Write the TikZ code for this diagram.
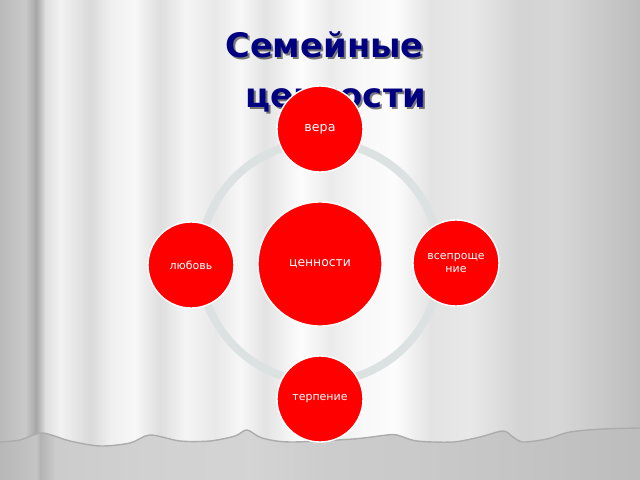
\documentclass[tikz,border=0pt]{standalone}
\usepackage{fontspec}
\setmainfont{DejaVu Sans}
\usetikzlibrary{positioning}
\definecolor{titleblue}{RGB}{0,0,128}
\definecolor{ringgray}{RGB}{220,226,226}
\definecolor{valuered}{RGB}{255,0,0}

\begin{document}
\begin{tikzpicture}[x=0.025cm, y=-0.025cm,
    value/.style={circle, fill=valuered, draw=white, line width=1pt, text=white, inner sep=0pt, align=center},
    small/.style={value, minimum size=2.15cm, font=\fontsize{7.8}{8.8}\selectfont},
    big/.style={value, minimum size=3.1cm, font=\fontsize{8.8}{10}\selectfont},
    titletext/.style={anchor=base west, inner sep=0pt, font=\bfseries\fontsize{24}{28}\selectfont}]
  \useasboundingbox (0,0) rectangle (640,480);

  % Floor
  \foreach \xa/\ga/\xb/\gb in {0/72/36/77, 36/77/40/70, 40/70/55/80, 55/80/150/82, 150/82/250/83,
      250/83/330/80, 330/80/420/79, 420/79/520/77, 520/77/640/74}
    \shade[left color=white!\ga!black, right color=white!\gb!black] (\xa,400) rectangle (\xb+0.6,480);

  % Curtain folds
  \begin{scope}
    \clip (0,0) -- plot[smooth] coordinates {(0,442) (20,440) (42,433) (70,441) (100,446) (130,443) (150,435)
      (180,441) (210,441) (235,436) (247,430) (262,438) (290,442) (353,439) (387,435) (397,435) (417,441)
      (453,442) (480,437) (503,431) (513,437) (523,442) (547,439) (570,432) (603,429) (640,428)} -- (640,0) -- cycle;
    \foreach \xa/\ga/\xb/\gb in {0/73/25/79, 25/79/36/65, 36/65/45/87, 45/87/60/95, 60/95/90/85, 90/85/110/94,
        110/94/135/97, 135/97/160/87, 160/87/185/96, 185/96/215/91, 215/91/240/97, 240/97/265/89,
        265/89/300/99, 300/99/330/92, 330/92/360/97, 360/97/395/99, 395/99/430/89, 430/89/470/91,
        470/91/520/83, 520/83/560/84, 560/84/640/74}
      \shade[left color=white!\ga!black, right color=white!\gb!black] (\xa,0) rectangle (\xb+0.6,460);
  \end{scope}
  \draw[gray!65, line width=1pt] plot[smooth] coordinates {(0,442) (20,440) (42,433) (70,441) (100,446) (130,443) (150,435)
      (180,441) (210,441) (235,436) (247,430) (262,438) (290,442) (353,439) (387,435) (397,435) (417,441)
      (453,442) (480,437) (503,431) (513,437) (523,442) (547,439) (570,432) (603,429) (640,428)};

  % Title
  \node[titletext, text=black, opacity=0.5] (title1s) at (227,60) {Семейные};
  \node[titletext, text=black, opacity=0.5] (title2s) at (247,109) {ценности};
  \node[titletext, text=titleblue] (title1) at (225,58) {Семейные};
  \node[titletext, text=titleblue] (title2) at (245,107) {ценности};

  % Values
  \node[big] (hub) at (320,264) {ценности};
  \draw[ringgray, line width=5.7pt] (hub.center) ++(0,-2) circle[radius=3cm];
  \node[small, font=\fontsize{9}{10}\selectfont] (faith) at (320,129) {вера};
  \node[small] (love) at (191,265) {любовь};
  \node[small] (forgive) at (456,263) {всепроще\\ние};
  \node[small] (patience) at (320,399) {терпение};
\end{tikzpicture}
\end{document}
